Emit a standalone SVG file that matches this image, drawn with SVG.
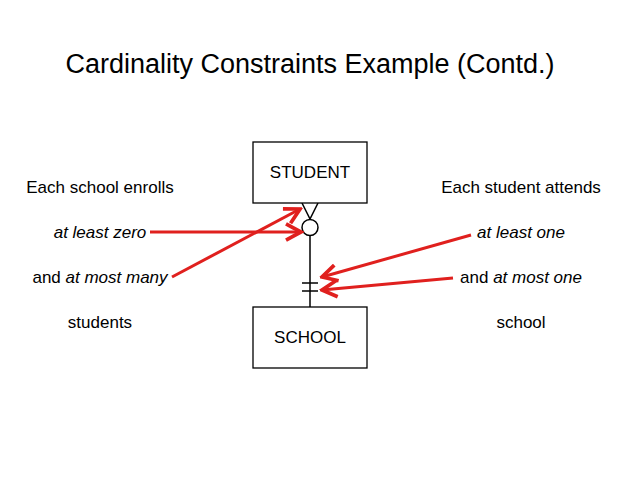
<svg xmlns="http://www.w3.org/2000/svg" width="638" height="479" viewBox="0 0 638 479">
<style>
text{font-family:"Liberation Sans",Arial,sans-serif;fill:#000}
.t{font-size:17px;text-anchor:middle}
.i{font-style:italic}
.box{fill:#fff;stroke:#000;stroke-width:1.3}
.ln{stroke:#000;stroke-width:1.5;fill:none}
.red{stroke:#e0201e;stroke-width:3;fill:none}
</style>
<defs>
<marker id="ah" markerUnits="userSpaceOnUse" markerWidth="20" markerHeight="20" viewBox="-14 -8 16 16" refX="0" refY="0" orient="auto">
<path d="M-12,-6.5 L0,0 L-12,6.5" fill="none" stroke="#e0201e" stroke-width="3" stroke-linejoin="miter"/>
</marker>
</defs>
<rect width="638" height="479" fill="#fff"/>
<text x="310" y="73" style="font-size:27px;text-anchor:middle">Cardinality Constraints Example (Contd.)</text>
<g id="connectors">
<line class="ln" x1="310" y1="235" x2="310" y2="307"/>
<line class="ln" x1="302" y1="203" x2="310" y2="219"/>
<line class="ln" x1="318" y1="203" x2="310" y2="219"/>
<circle class="ln" cx="310" cy="227.5" r="8" fill="#fff"/>
<line class="ln" x1="302" y1="283" x2="318" y2="283"/>
<line class="ln" x1="302" y1="291" x2="318" y2="291"/>
</g>
<g id="student">
<rect class="box" x="253" y="142" width="114" height="61"/>
<text class="t" x="310" y="178">STUDENT</text>
</g>
<g id="school">
<rect class="box" x="253" y="307" width="114" height="61"/>
<text class="t" x="310" y="343">SCHOOL</text>
</g>
<g id="left-labels">
<text class="t" x="100" y="193">Each school enrolls</text>
<text class="t i" x="100" y="238">at least zero</text>
<text class="t" x="100" y="283">and <tspan class="i">at most many</tspan></text>
<text class="t" x="100" y="328">students</text>
</g>
<g id="right-labels">
<text class="t" x="521" y="193">Each student attends</text>
<text class="t i" x="521" y="238">at least one</text>
<text class="t" x="521" y="283">and <tspan class="i">at most one</tspan></text>
<text class="t" x="521" y="328">school</text>
</g>
<g id="arrows">
<line class="red" x1="150" y1="232" x2="301" y2="232" marker-end="url(#ah)"/>
<line class="red" x1="172" y1="277" x2="300" y2="209" marker-end="url(#ah)"/>
<line class="red" x1="471" y1="235" x2="322" y2="277" marker-end="url(#ah)"/>
<line class="red" x1="453" y1="278" x2="322" y2="290" marker-end="url(#ah)"/>
</g>
</svg>
